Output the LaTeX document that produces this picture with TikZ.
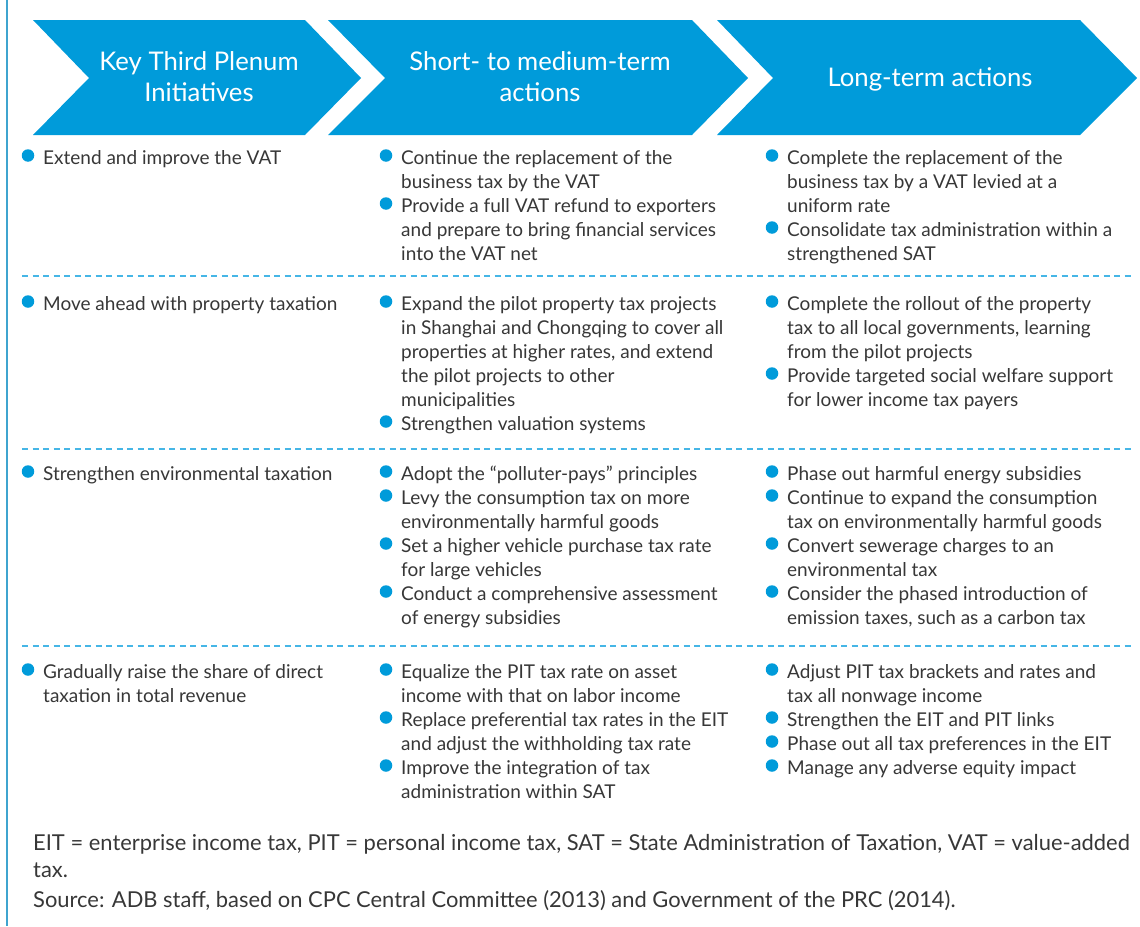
\documentclass[tikz,border=0pt]{standalone}
\usepackage{fontspec}
\setmainfont{Lato}
\definecolor{adb}{RGB}{0,155,218}
\definecolor{sepblue}{RGB}{70,182,230}
\definecolor{txt}{RGB}{55,55,55}
\newcommand{\bodyfont}{\fontsize{19}{24}\selectfont}
\newcommand{\headfont}{\fontsize{25.7}{31}\selectfont}
\tikzset{
  chev/.style={fill=adb, draw=none},
  headtext/.style={text=white, font=\headfont, align=center, inner sep=0pt},
  itemtext/.style={anchor=base west, align=left, font=\bodyfont, text=txt, inner sep=0pt},
  dot/.style={circle, fill=adb, draw=none, inner sep=0pt, minimum size=12.5pt},
  sepline/.style={draw=sepblue, line width=1.3pt, dash pattern=on 6pt off 4.5pt},
  foot/.style={anchor=base west, align=left, font=\fontsize{21.9}{27}\selectfont, text=txt, inner sep=0pt}
}
% \itm{name}{x}{first baseline}{number of lines}{text}
% (the base anchor of a multi-line node is the baseline of its last line)
\newcommand{\itm}[5]{%
  \node[dot] (#1d) at (#2-15,#3-8.5) {};
  \node[itemtext] (#1) at (#2,#3+24*#4-24) {#5};
}
\begin{document}
\begin{tikzpicture}[x=1pt,y=-1pt]
\useasboundingbox (0,0) rectangle (1140,926);
% left rule
\draw[sepblue!90!black, line width=1.4pt] (7,0) -- (7,926);
% chevrons
\fill[chev] (33,20) -- (305,20) -- (361,78) -- (305,135) -- (33,135) -- (89,78) -- cycle;
\fill[chev] (328,20) -- (692,20) -- (748,78) -- (692,135) -- (328,135) -- (385,78) -- cycle;
\fill[chev] (717,20) -- (1080,20) -- (1137,78) -- (1080,135) -- (717,135) -- (773,78) -- cycle;
\node[headtext, anchor=base] (h1) at (199,101) {Key Third Plenum\\Initiatives};
\node[headtext, anchor=base] (h2) at (540,101) {Short- to medium-term\\actions};
\node[headtext, anchor=base] (h3) at (930,86) {Long-term actions};
% separators
\coordinate (s1a) at (22,276); \coordinate (s1b) at (1133,276);
\coordinate (s2a) at (22,449); \coordinate (s2b) at (1133,449);
\coordinate (s3a) at (22,646); \coordinate (s3b) at (1133,646);
\draw[sepline] (s1a) -- (s1b);
\draw[sepline] (s2a) -- (s2b);
\draw[sepline] (s3a) -- (s3b);
% row 1
\itm{a1}{43}{164}{1}{Extend and improve the VAT}
\itm{b1}{401}{164}{2}{Continue the replacement of the\\business tax by the VAT}
\itm{b2}{401}{212}{3}{Provide a full VAT refund to exporters\\and prepare to bring financial services\\into the VAT net}
\itm{c1}{787}{164}{3}{Complete the replacement of the\\business tax by a VAT levied at a\\uniform rate}
\itm{c2}{787}{236}{2}{Consolidate tax administration within a\\strengthened SAT}
% row 2
\itm{a2}{43}{310}{1}{Move ahead with property taxation}
\itm{b3}{401}{310}{5}{Expand the pilot property tax projects\\in Shanghai and Chongqing to cover all\\properties at higher rates, and extend\\the pilot projects to other\\municipalities}
\itm{b4}{401}{430}{1}{Strengthen valuation systems}
\itm{c3}{787}{310}{3}{Complete the rollout of the property\\tax to all local governments, learning\\from the pilot projects}
\itm{c4}{787}{382}{2}{Provide targeted social welfare support\\for lower income tax payers}
% row 3
\itm{a3}{43}{480}{1}{Strengthen environmental taxation}
\itm{b5}{401}{480}{1}{Adopt the “polluter-pays” principles}
\itm{b6}{401}{504}{2}{Levy the consumption tax on more\\environmentally harmful goods}
\itm{b7}{401}{552}{2}{Set a higher vehicle purchase tax rate\\for large vehicles}
\itm{b8}{401}{600}{2}{Conduct a comprehensive assessment\\of energy subsidies}
\itm{c5}{787}{480}{1}{Phase out harmful energy subsidies}
\itm{c6}{787}{504}{2}{Continue to expand the consumption\\tax on environmentally harmful goods}
\itm{c7}{787}{552}{2}{Convert sewerage charges to an\\environmental tax}
\itm{c8}{787}{600}{2}{Consider the phased introduction of\\emission taxes, such as a carbon tax}
% row 4
\itm{a4}{43}{678}{2}{Gradually raise the share of direct\\taxation in total revenue}
\itm{b9}{401}{678}{2}{Equalize the PIT tax rate on asset\\income with that on labor income}
\itm{b10}{401}{726}{2}{Replace preferential tax rates in the EIT\\and adjust the withholding tax rate}
\itm{b11}{401}{774}{2}{Improve the integration of tax\\administration within SAT}
\itm{c9}{787}{678}{2}{Adjust PIT tax brackets and rates and\\tax all nonwage income}
\itm{c10}{787}{726}{1}{Strengthen the EIT and PIT links}
\itm{c11}{787}{750}{1}{Phase out all tax preferences in the EIT}
\itm{c12}{787}{774}{1}{Manage any adverse equity impact}
% footer
\node[foot] (f1) at (33,877) {EIT = enterprise income tax, PIT = personal income tax, SAT = State Administration of Taxation, VAT = value-added\\tax.};
\node[foot] (f2) at (33,907) {Source: ADB staff, based on CPC Central Committee (2013) and Government of the PRC (2014).};
\end{tikzpicture}
\end{document}
